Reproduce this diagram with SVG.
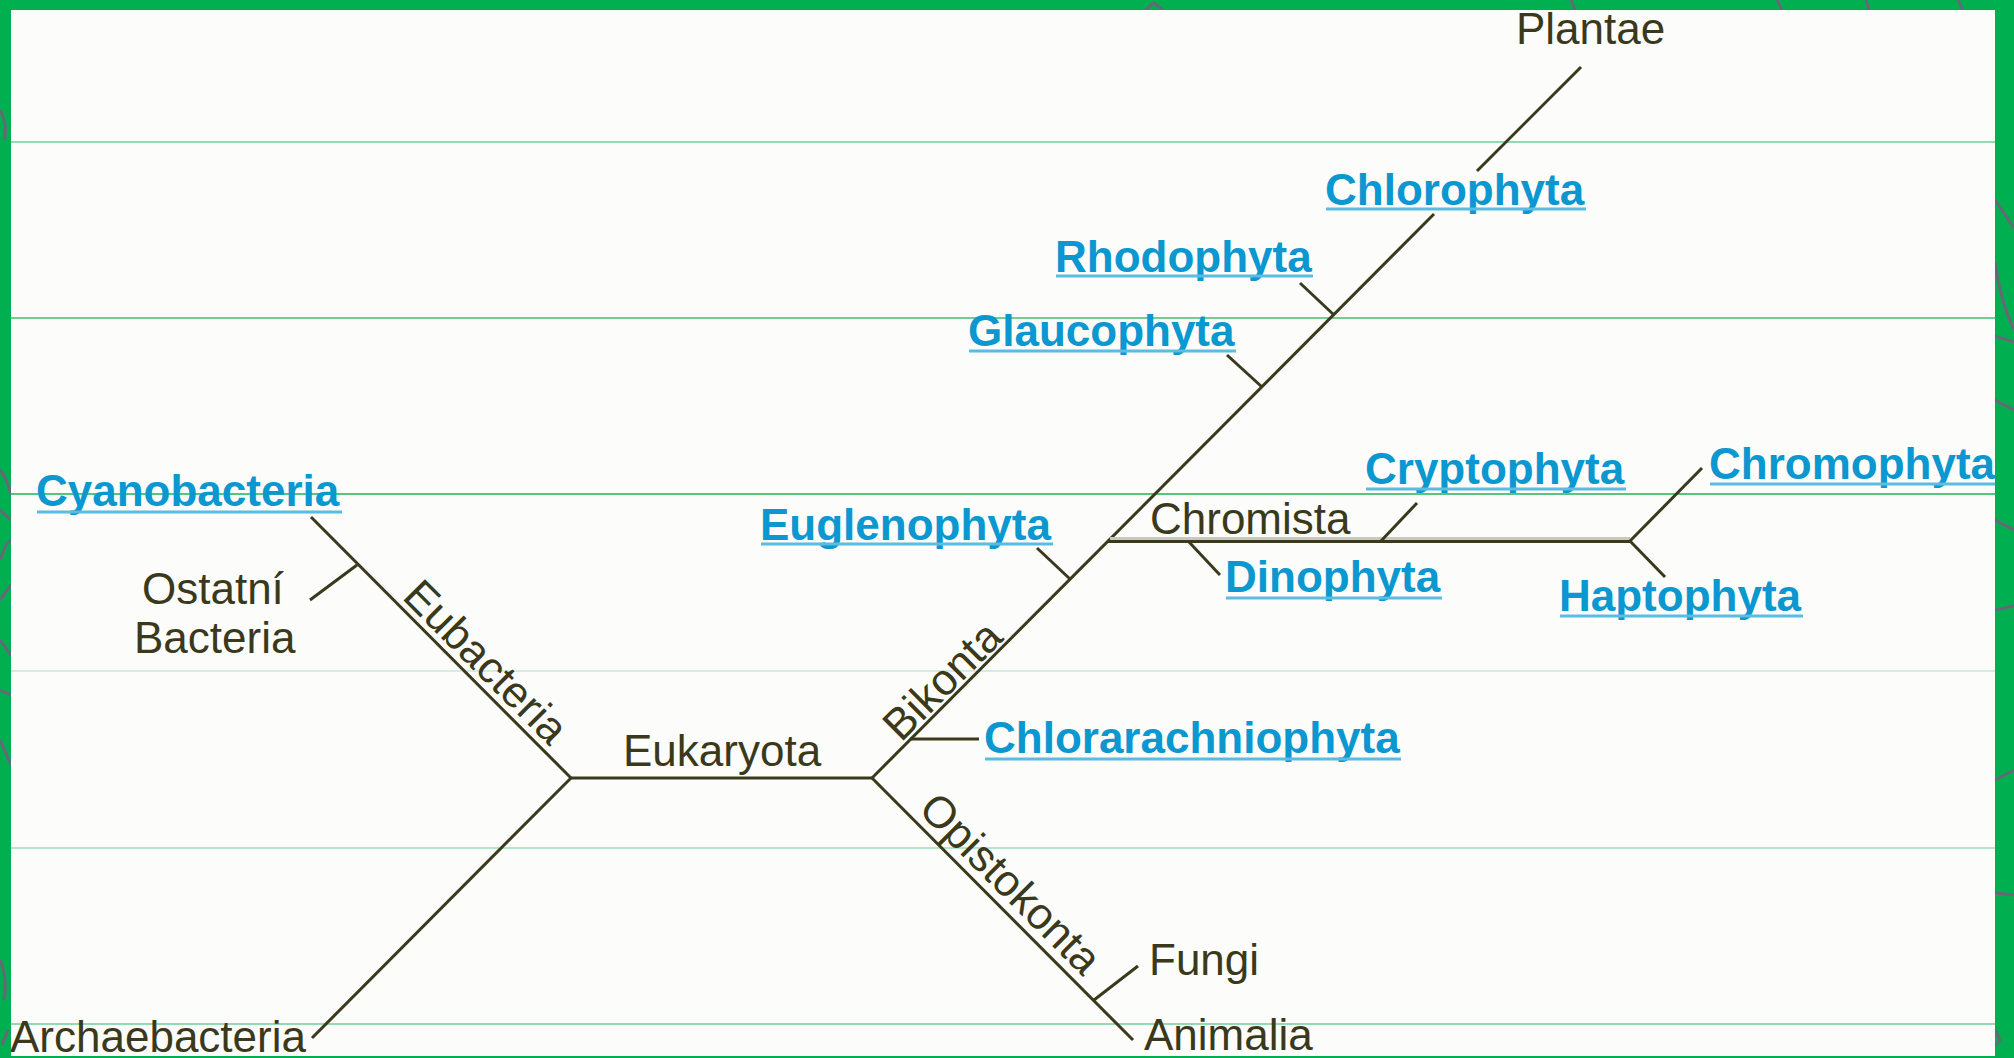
<svg xmlns="http://www.w3.org/2000/svg" width="2014" height="1058" viewBox="0 0 2014 1058">
  <defs>
    <style>
      .grid { stroke-width: 1.6; fill: none; }
      .br { stroke: #3a391c; stroke-width: 3; fill: none; stroke-linecap: butt; }
      .lbl { font-family: "Liberation Sans", Arial, sans-serif; font-size: 44px; fill: #3a391c; }
      .lnk { font-family: "Liberation Sans", Arial, sans-serif; font-size: 44px; font-weight: bold; fill: #0b97cf; }
      .ul { stroke: #5bbce2; stroke-width: 3; }
      .deco { stroke: #676877; stroke-width: 3; fill: none; }
    </style>
    <clipPath id="borderClip">
      <path d="M0 0H2014V1058H0Z M11 10V1056H1995V10Z" clip-rule="evenodd" fill-rule="evenodd"/>
    </clipPath>
  </defs>

  <rect x="0" y="0" width="2014" height="1058" fill="#fcfdfb"/>

  <g id="grid">
    <line class="grid" x1="11" y1="142" x2="1995" y2="142" stroke="#6fcf97"/>
    <line class="grid" x1="11" y1="318" x2="1995" y2="318" stroke="#40bf70"/>
    <line class="grid" x1="11" y1="494" x2="1995" y2="494" stroke="#1db455"/>
    <line class="grid" x1="11" y1="671" x2="1995" y2="671" stroke="#c5e8d8"/>
    <line class="grid" x1="11" y1="848" x2="1995" y2="848" stroke="#9fdcbc"/>
    <line class="grid" x1="11" y1="1024" x2="1995" y2="1024" stroke="#72cc98"/>
  </g>

  <g id="connectors">
    <line class="br" x1="571" y1="778" x2="311" y2="517"/>
    <line class="br" x1="357" y1="565" x2="310" y2="600"/>
    <line class="br" x1="571" y1="778" x2="312" y2="1038"/>
    <line class="br" x1="571" y1="778" x2="872" y2="778"/>
    <line class="br" x1="872" y1="778" x2="1434" y2="214"/>
    <line class="br" x1="1477" y1="171" x2="1581" y2="67"/>
    <line class="br" x1="1334" y1="315" x2="1300" y2="283"/>
    <line class="br" x1="1262" y1="387" x2="1227" y2="355"/>
    <line class="br" x1="1070" y1="579" x2="1037" y2="548"/>
    <line class="br" x1="910" y1="739" x2="979" y2="739"/>
    <line x1="1110" y1="538.5" x2="1630" y2="538.5" stroke="#c8c8bc" stroke-width="3"/>
    <line class="br" x1="1108" y1="541.5" x2="1630" y2="541.5"/>
    <line class="br" x1="1381" y1="541" x2="1417" y2="503"/>
    <line class="br" x1="1189" y1="542" x2="1220" y2="575"/>
    <line class="br" x1="1630" y1="541" x2="1702" y2="468"/>
    <line class="br" x1="1630" y1="541" x2="1665" y2="577"/>
    <line class="br" x1="872" y1="778" x2="1133" y2="1040"/>
    <line class="br" x1="1094" y1="1000" x2="1138" y2="966"/>
  </g>

  <g id="n-plantae"><text class="lbl" x="1516" y="44">Plantae</text></g>
  <g id="n-chlorophyta">
    <text class="lnk" x="1325" y="205">Chlorophyta</text>
    <line class="ul" x1="1326" y1="209" x2="1586" y2="209"/>
  </g>
  <g id="n-rhodophyta">
    <text class="lnk" x="1055" y="272">Rhodophyta</text>
    <line class="ul" x1="1056" y1="276" x2="1313" y2="276"/>
  </g>
  <g id="n-glaucophyta">
    <text class="lnk" x="968" y="346">Glaucophyta</text>
    <line class="ul" x1="969" y1="351" x2="1236" y2="351"/>
  </g>
  <g id="n-euglenophyta">
    <text class="lnk" x="760" y="540">Euglenophyta</text>
    <line class="ul" x1="761" y1="544" x2="1053" y2="544"/>
  </g>
  <g id="n-cryptophyta">
    <text class="lnk" x="1365" y="484">Cryptophyta</text>
    <line class="ul" x1="1366" y1="489" x2="1626" y2="489"/>
  </g>
  <g id="n-chromophyta">
    <text class="lnk" x="1709" y="479">Chromophyta</text>
    <line class="ul" x1="1710" y1="484" x2="1997" y2="484"/>
  </g>
  <g id="n-dinophyta">
    <text class="lnk" x="1225" y="592">Dinophyta</text>
    <line class="ul" x1="1226" y1="598" x2="1442" y2="598"/>
  </g>
  <g id="n-haptophyta">
    <text class="lnk" x="1559" y="611">Haptophyta</text>
    <line class="ul" x1="1560" y1="616" x2="1803" y2="616"/>
  </g>
  <g id="n-chlorarachniophyta">
    <text class="lnk" x="984" y="753">Chlorarachniophyta</text>
    <line class="ul" x1="985" y1="759" x2="1401" y2="759"/>
  </g>
  <g id="n-cyanobacteria">
    <text class="lnk" x="36" y="506">Cyanobacteria</text>
    <line class="ul" x1="37" y1="512" x2="342" y2="512"/>
  </g>
  <g id="n-chromista"><text class="lbl" x="1150" y="534">Chromista</text></g>
  <g id="n-ostatni">
    <text class="lbl" x="142" y="604">Ostatní</text>
    <text class="lbl" x="134" y="653">Bacteria</text>
  </g>
  <g id="n-eukaryota"><text class="lbl" x="623" y="766">Eukaryota</text></g>
  <g id="n-eubacteria"><text class="lbl" x="401" y="598" transform="rotate(45 401 598)">Eubacteria</text></g>
  <g id="n-bikonta"><text class="lbl" x="901" y="743" transform="rotate(-45 901 743)">Bikonta</text></g>
  <g id="n-opistokonta"><text class="lbl" x="917" y="811" transform="rotate(45 917 811)">Opistokonta</text></g>
  <g id="n-fungi"><text class="lbl" x="1149" y="975">Fungi</text></g>
  <g id="n-animalia"><text class="lbl" x="1144" y="1050">Animalia</text></g>
  <g id="n-archaebacteria"><text class="lbl" x="10" y="1052">Archaebacteria</text></g>

  <g id="border">
    <path d="M0 0H2014V1058H0Z M11 10V1056H1995V10Z" fill="#00b050" fill-rule="evenodd"/>
    <g clip-path="url(#borderClip)" class="deco">
      <path d="M1145 10 L1154 3 L1163 10"/>
      <path d="M1571 0 L1575 10"/>
      <path d="M1777 0 L1782 10"/>
      <path d="M1866 0 L1869 10"/>
      <path d="M1958 0 L1963 10"/>
      <path d="M1995 200 L2014 228"/>
      <path d="M1995 262 Q2000 300 2014 330"/>
      <path d="M1995 336 L2014 342"/>
      <path d="M1995 400 L2014 410"/>
      <path d="M1995 520 L2014 530"/>
      <path d="M1995 610 L2014 606"/>
      <path d="M1995 780 L2014 770"/>
      <path d="M1995 893 L2014 895"/>
      <path d="M1995 1030 L2000 1040 L1995 1045"/>
      <path d="M0 110 Q8 125 4 140"/>
      <path d="M0 470 Q8 480 11 495"/>
      <path d="M0 510 L11 520"/>
      <path d="M0 560 L6 545 L11 540"/>
      <path d="M0 600 L11 585"/>
      <path d="M0 640 L11 655"/>
      <path d="M0 690 L11 695"/>
      <path d="M0 740 L11 765"/>
      <path d="M0 960 Q8 980 4 1000"/>
      <path d="M2 1045 L8 1030"/>
    </g>
  </g>
</svg>
